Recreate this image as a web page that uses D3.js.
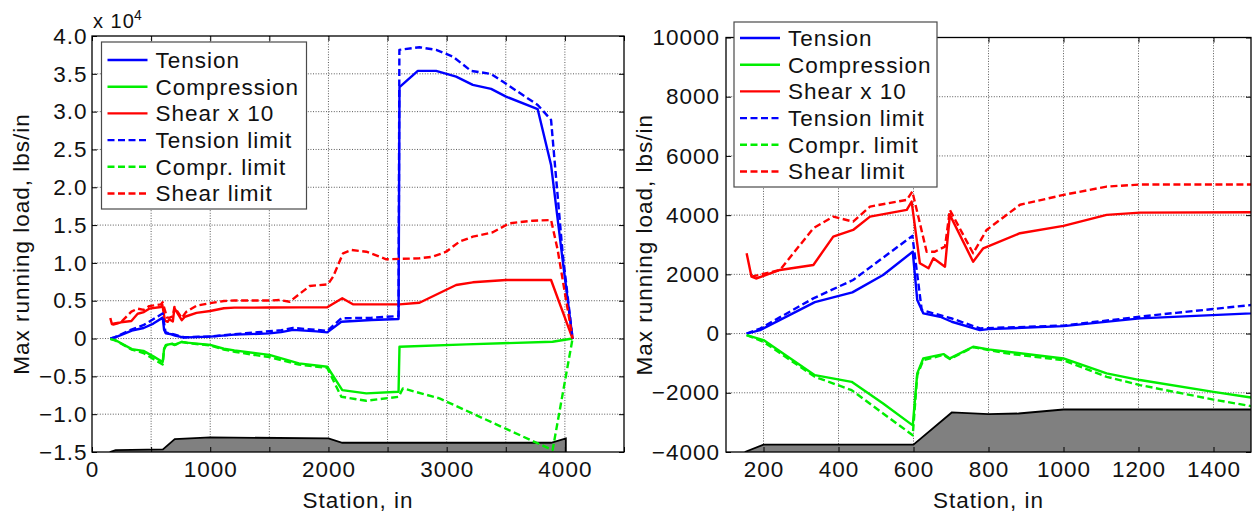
<!DOCTYPE html>
<html>
<head>
<meta charset="utf-8">
<script src="https://cdn.jsdelivr.net/npm/d3@7"></script>
<style>
  body { margin: 0; background: #fff; }
  svg text { font-family: "Liberation Sans", Arial, Helvetica, sans-serif; font-size: 22.5px; letter-spacing: 1px; fill: #111; }
</style>
</head>
<body>
<svg id="fig" width="1259" height="519"></svg>
<script>
// Running loads along the fuselage (station in inches, load in lbs/in)
const tensionSta = [155, 191, 337, 437, 519, 598, 610, 626, 671, 702, 777, 800, 1000, 1204, 1500, 1600, 1700, 1900, 1990, 2109, 2365, 2593, 2601, 2756, 2911, 3080, 3221, 3376, 3502, 3770, 3883, 3981, 4065];
const tensionVal = [0, 118, 1060, 1390, 1978, 2766, 1133, 683, 568, 400, 118, 150, 253, 514, 683, 850, 1150, 950, 820, 2222, 2447, 2580, 33229, 35385, 35385, 34630, 33533, 33004, 31985, 30318, 22950, 10384, 0];

const compSta = [155, 200, 337, 435, 519, 598, 610, 626, 680, 697, 759, 800, 1000, 1115, 1204, 1400, 1500, 1750, 1990, 2117, 2320, 2593, 2601, 3165, 3896, 4065];
const compVal = [-50, -220, -1404, -1630, -2360, -3100, -1346, -839, -693, -840, -446, -535, -840, -1346, -1570, -1968, -2158, -3281, -3730, -6812, -7250, -7037, -1085, -767, -423, 0];

// shear is plotted multiplied by 10
const shearSta = [155, 168, 180, 244, 333, 386, 439, 484, 582, 595, 617, 640, 653, 684, 697, 759, 786, 884, 1000, 1115, 1204, 1500, 1757, 1990, 2117, 2207, 2601, 2770, 3080, 3221, 3502, 3883, 4065];
const shearVal = [2712, 1921, 1860, 2148, 2317, 3274, 3500, 3950, 4177, 4457, 2374, 2205, 2543, 2260, 4008, 2428, 2881, 3389, 3636, 4008, 4086, 4100, 4127, 4127, 5318, 4524, 4524, 4736, 7077, 7434, 7738, 7738, 0];

const tensionLimSta = [155, 191, 333, 439, 597, 622, 671, 702, 777, 1000, 1204, 1300, 1400, 1500, 1600, 1700, 1900, 1990, 2109, 2365, 2593, 2600, 2770, 2911, 3052, 3207, 3376, 3474, 3770, 3883, 3981, 4065];
const tensionLimVal = [0, 170, 1190, 1810, 3300, 795, 620, 510, 175, 270, 570, 700, 830, 964, 1100, 1400, 1150, 1000, 2672, 2750, 2976, 38163, 38516, 38163, 37281, 35385, 34988, 33970, 30887, 28904, 11270, 0];

const compLimSta = [155, 200, 337, 435, 519, 598, 610, 626, 680, 697, 759, 849, 1000, 1115, 1204, 1400, 1500, 1750, 1990, 2109, 2320, 2593, 2630, 2939, 3896, 4065];
const compLimVal = [-50, -280, -1460, -1911, -2700, -3433, -1400, -900, -720, -860, -460, -670, -900, -1460, -1740, -2230, -2450, -3450, -3900, -7700, -8227, -7700, -6590, -7911, -14750, 0];

const shearLimSta = [168, 244, 333, 386, 439, 484, 582, 597, 635, 657, 684, 697, 759, 795, 884, 1000, 1115, 1204, 1500, 1588, 1672, 1841, 1996, 2039, 2124, 2193, 2320, 2489, 2770, 2883, 2996, 3108, 3221, 3390, 3530, 3727, 3883, 3939, 4065];
const shearLimVal = [1921, 2148, 3558, 3950, 3781, 4290, 4515, 4796, 2766, 2766, 2935, 4177, 2712, 3500, 4350, 4684, 4965, 5033, 5033, 5093, 4868, 6945, 7170, 8175, 11270, 11707, 11482, 10476, 10609, 10820, 11482, 12805, 13466, 14048, 15238, 15582, 15675, 11707, 0];

// fuselage side silhouette drawn along the bottom of each panel
const groundLeftSta = [150, 200, 600, 700, 1000, 2000, 2117, 3883, 4008, 4008];
const groundLeftVal = [-15000, -14750, -14660, -13300, -13070, -13200, -13780, -13780, -13200, -15000];
const groundRightSta = [150, 200, 600, 702, 800, 880, 1000, 1500];
const groundRightVal = [-4000, -3750, -3750, -2665, -2720, -2700, -2565, -2565];

const legendLabels = ["Tension", "Compression", "Shear x 10", "Tension limit", "Compr. limit", "Shear limit"];

// tick positions and labels
const leftXTicks = [0, 500, 1000, 1500, 2000, 2500, 3000, 3500, 4000, 4500];
const leftXLabels = [0, 1000, 2000, 3000, 4000];
const leftYTicks = [-15000, -10000, -5000, 0, 5000, 10000, 15000, 20000, 25000, 30000, 35000, 40000];
const rightXTicks = [200, 400, 600, 800, 1000, 1200, 1400];
const rightYTicks = [-4000, -2000, 0, 2000, 4000, 6000, 8000, 10000];

const zip = (s, v) => s.map((d, i) => [d, v[i]]);
const series = [
  { pts: zip(tensionSta, tensionVal), color: "#0000ff", dash: null },
  { pts: zip(compSta, compVal), color: "#00ee00", dash: null },
  { pts: zip(shearSta, shearVal), color: "#ff0000", dash: null },
  { pts: zip(tensionLimSta, tensionLimVal), color: "#0000ff", dash: "7,3.5" },
  { pts: zip(compLimSta, compLimVal), color: "#00ee00", dash: "7,3.5" },
  { pts: zip(shearLimSta, shearLimVal), color: "#ff0000", dash: "7,3.5" }
];

const svg = d3.select("#fig");

function panel(o) {
  const x = d3.scaleLinear().domain(o.xDomain).range([o.left, o.right]);
  const y = d3.scaleLinear().domain(o.yDomain).range([o.bottom, o.top]);
  const g = svg.append("g");

  g.append("clipPath").attr("id", o.id + "-clip")
    .append("rect").attr("x", o.left).attr("y", o.top)
    .attr("width", o.right - o.left).attr("height", o.bottom - o.top);

  // dotted grid
  const grid = g.append("g").attr("stroke", "#5a5a5a").attr("stroke-width", 1).attr("stroke-dasharray", "1,1.6");
  grid.selectAll(".gx").data(o.xTicks.filter(v => v > o.xDomain[0] && v < o.xDomain[1]))
    .join("line").attr("x1", d => x(d)).attr("x2", d => x(d)).attr("y1", o.top).attr("y2", o.bottom);
  grid.selectAll(".gy").data(o.yTicks.filter(v => v > o.yDomain[0] && v < o.yDomain[1]))
    .join("line").attr("y1", d => y(d)).attr("y2", d => y(d)).attr("x1", o.left).attr("x2", o.right);

  const plot = g.append("g").attr("clip-path", `url(#${o.id}-clip)`);

  // silhouette
  const gpts = zip(o.groundSta, o.groundVal);
  plot.append("path").datum(gpts)
    .attr("d", d3.area().x(d => x(d[0])).y0(o.bottom).y1(d => y(d[1])))
    .attr("fill", "#808080");
  plot.append("path").datum(gpts)
    .attr("d", d3.line().x(d => x(d[0])).y(d => y(d[1])))
    .attr("fill", "none").attr("stroke", "#000").attr("stroke-width", 1.8);

  // load curves
  const line = d3.line().x(d => x(d[0])).y(d => y(d[1]));
  series.forEach(s => {
    plot.append("path").datum(s.pts).attr("d", line)
      .attr("fill", "none").attr("stroke", s.color).attr("stroke-width", 2.4)
      .attr("stroke-linejoin", "round")
      .attr("stroke-dasharray", s.dash);
  });

  // axes with inward ticks on all four sides
  g.append("g").attr("transform", `translate(0,${o.bottom})`)
    .call(d3.axisBottom(x).tickValues(o.xTicks).tickSize(-5).tickPadding(9.5).tickFormat(o.xFormat));
  g.append("g").attr("transform", `translate(0,${o.top})`)
    .call(d3.axisTop(x).tickValues(o.xTicks).tickSize(-5).tickFormat(""));
  g.append("g").attr("transform", `translate(${o.left},0)`)
    .call(d3.axisLeft(y).tickValues(o.yTicks).tickSize(-5).tickPadding(o.yPad).tickFormat(o.yFormat));
  g.append("g").attr("transform", `translate(${o.right},0)`)
    .call(d3.axisRight(y).tickValues(o.yTicks).tickSize(-5).tickFormat(""));
  g.selectAll(".domain").remove();
  g.selectAll(".tick line").attr("stroke", "#000");

  g.append("rect").attr("x", o.left).attr("y", o.top)
    .attr("width", o.right - o.left).attr("height", o.bottom - o.top)
    .attr("fill", "none").attr("stroke", "#000").attr("stroke-width", 1.3);

  // axis titles
  g.append("text").attr("x", (o.left + o.right) / 2).attr("y", 508)
    .attr("text-anchor", "middle").text("Station, in");
  g.append("text")
    .attr("transform", `translate(${o.yTitleX},${(o.top + o.bottom) / 2}) rotate(-90)`)
    .attr("text-anchor", "middle").text("Max running load, lbs/in");

  // legend
  const L = o.legend;
  const lg = g.append("g");
  lg.append("rect").attr("x", L.x).attr("y", L.y).attr("width", L.w).attr("height", L.h)
    .attr("fill", "#fff").attr("stroke", "#4a4a4a").attr("stroke-width", 1.2);
  legendLabels.forEach((lab, i) => {
    const cy = L.y + L.first + i * L.step;
    lg.append("line").attr("x1", L.x + 6).attr("x2", L.x + 46).attr("y1", cy).attr("y2", cy)
      .attr("stroke", series[i].color).attr("stroke-width", 2.4)
      .attr("stroke-dasharray", series[i].dash);
    lg.append("text").attr("x", L.x + 54).attr("y", cy).attr("dy", "0.35em").text(lab);
  });
  return g;
}

const fmtLeftY = d => d === 0 ? "0" : d3.format(".1f")(d / 1e4);

const gl = panel({
  id: "left", left: 92, right: 624, top: 36, bottom: 452,
  xDomain: [0, 4500], yDomain: [-15000, 40000],
  xTicks: leftXTicks, yTicks: leftYTicks,
  xFormat: d => leftXLabels.includes(d) ? String(d) : "",
  yFormat: fmtLeftY, yPad: 4.5, yTitleX: 28.5,
  groundSta: groundLeftSta, groundVal: groundLeftVal,
  legend: { x: 101.5, y: 42, w: 205, h: 167, first: 18, step: 26.7 }
});
// axis multiplier
gl.append("text").attr("x", 93).attr("y", 28).style("font-size", "20px").text("x 10");
gl.append("text").attr("x", 134).attr("y", 20).style("font-size", "14px").text("4");

panel({
  id: "right", left: 726, right: 1251, top: 37.5, bottom: 452,
  xDomain: [100, 1500], yDomain: [-4000, 10000],
  xTicks: rightXTicks, yTicks: rightYTicks,
  xFormat: d => String(d),
  yFormat: d3.format("d"), yPad: 6, yTitleX: 651.5,
  groundSta: groundRightSta, groundVal: groundRightVal,
  legend: { x: 734, y: 22, w: 203, h: 165, first: 16, step: 26.7 }
});
</script>
</body>
</html>
